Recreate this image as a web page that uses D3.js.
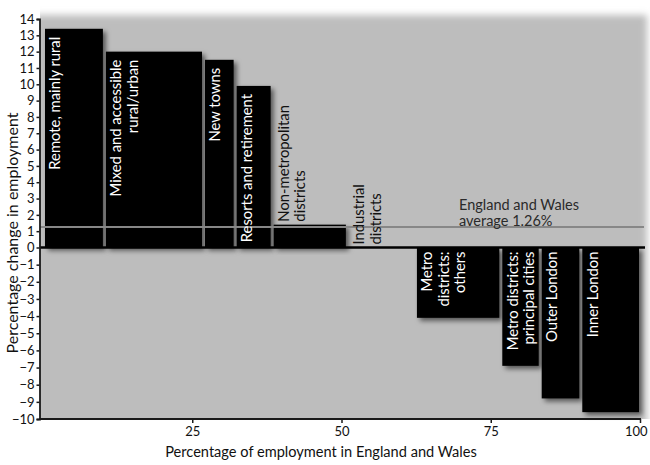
<!DOCTYPE html>
<html>
<head>
<meta charset="utf-8">
<script src="https://cdn.jsdelivr.net/npm/d3@7"></script>
<style>
  html, body { margin: 0; padding: 0; background: #fff; }
  svg { display: block; font-family: Lato, "Open Sans", sans-serif; }
</style>
</head>
<body>
<svg id="chart" width="650" height="465"></svg>
<script>
// ---- data ----
const categories = [
  "Remote, mainly rural", "Mixed and accessible rural/urban", "New towns",
  "Resorts and retirement", "Non-metropolitan districts", "Industrial districts",
  "Metro districts: others", "Metro districts: principal cities", "Outer London", "Inner London"
];
const labelLines = [
  ["Remote, mainly rural"],
  ["Mixed and accessible", "rural/urban"],
  ["New towns"],
  ["Resorts and retirement"],
  ["Non-metropolitan", "districts"],
  ["Industrial", "districts"],
  ["Metro", "districts:", "others"],
  ["Metro districts:", "principal cities"],
  ["Outer London"],
  ["Inner London"]
];
// share of employment in England and Wales (%) – bar widths
const employmentShare = [10.2, 16.6, 5.3, 6.2, 12.6, 11.4, 14.3, 6.6, 6.8, 10.0];
// percentage change in employment – bar heights
const employmentChange = [13.4, 12.0, 11.5, 9.9, 1.4, 0.0, -4.1, -6.9, -8.8, -9.6];
const averageChange = 1.26;
const averageLabel = ["England and Wales", "average 1.26%"];
const xTicks = [25, 50, 75, 100];
const yTicks = d3.range(-10, 15, 1);
const xTitle = "Percentage of employment in England and Wales";
const yTitle = "Percentage change in employment";

// ---- layout ----
const svg = d3.select("#chart");
const x = d3.scaleLinear().domain([0, 100]).range([43, 640]);
const y = d3.scaleLinear().domain([-10, 0, 14]).range([419, 247.5, 19]);

const defs = svg.append("defs");
const blur = defs.append("filter").attr("id", "bgblur")
  .attr("x", "-10%").attr("y", "-10%").attr("width", "120%").attr("height", "120%");
blur.append("feGaussianBlur").attr("stdDeviation", 3.5);
const shadow = defs.append("filter").attr("id", "shadow")
  .attr("x", "-20%").attr("y", "-20%").attr("width", "150%").attr("height", "150%");
shadow.append("feDropShadow").attr("dx", 3).attr("dy", 3)
  .attr("stdDeviation", 2.5).attr("flood-color", "#000").attr("flood-opacity", 0.55);
defs.append("clipPath").attr("id", "plotclip")
  .append("rect").attr("x", 40).attr("y", 0).attr("width", 610).attr("height", 419);

// background panel
svg.append("g").attr("clip-path", "url(#plotclip)")
  .append("rect")
  .attr("x", 34).attr("y", 15).attr("width", 613).attr("height", 420)
  .attr("fill", "#bdbdbd").attr("filter", "url(#bgblur)");

// bars
const starts = [];
employmentShare.reduce((acc, w) => { starts.push(acc); return acc + w; }, 0);
const data = categories.map((c, i) => ({
  name: c, lines: labelLines[i], start: starts[i], end: starts[i] + employmentShare[i],
  value: employmentChange[i]
}));

svg.append("g").selectAll("rect").data(data).join("rect")
  .attr("x", d => x(d.start) + 2)
  .attr("width", d => x(d.end) - x(d.start) - 3)
  .attr("y", d => Math.min(y(d.value), y(0)))
  .attr("height", d => Math.abs(y(d.value) - y(0)))
  .attr("fill", "#000")
  .attr("filter", "url(#shadow)");

// zero line
svg.append("line")
  .attr("x1", 40).attr("x2", 645)
  .attr("y1", y(0)).attr("y2", y(0))
  .attr("stroke", "#000").attr("stroke-width", 2.5);

// average line
svg.append("line")
  .attr("x1", 40).attr("x2", 644)
  .attr("y1", y(averageChange)).attr("y2", y(averageChange))
  .attr("stroke", "#878787").attr("stroke-width", 2);

// bar labels
const lineGap = 16.5;
const labels = svg.append("g").attr("font-size", 14.8);
data.forEach(d => {
  const h = Math.abs(y(d.value) - y(0));
  const inside = h > 40;
  const cx0 = x(d.start) + 12;
  let ay, anchor, fill;
  if (inside && d.value > 0) { ay = y(d.value) + 8; anchor = "end"; fill = "#fff"; }
  else if (inside) { ay = y(0) + 4; anchor = "end"; fill = "#fff"; }
  else { ay = Math.min(y(d.value), y(0)) - 3; anchor = "start"; fill = "#111"; }
  d.lines.forEach((t, j) => {
    const cx = cx0 + j * lineGap;
    labels.append("text")
      .attr("transform", `translate(${cx},${ay}) rotate(-90)`)
      .attr("dy", "0.36em")
      .attr("text-anchor", anchor)
      .attr("fill", fill)
      .text(t);
  });
});

// average label
const avg = svg.append("g").attr("font-size", 14.5).attr("fill", "#2a2a2a");
averageLabel.forEach((t, j) => {
  avg.append("text").attr("x", 459).attr("y", y(averageChange) - 17 + j * 16).text(t);
});

// axes
const yAxis = svg.append("g").attr("transform", "translate(39.5,0)")
  .call(d3.axisLeft(y).tickValues(yTicks).tickFormat(d3.format("d")).tickSize(3).tickPadding(2));
const xAxis = svg.append("g").attr("transform", `translate(0,${y(-10)})`)
  .call(d3.axisBottom(x).tickValues(xTicks).tickSize(4).tickPadding(4));
xAxis.select(".domain").attr("d", `M39.5,0H641`);
[yAxis, xAxis].forEach(a => {
  a.select(".domain").attr("stroke", "#1a1a1a").attr("stroke-width", 1.8);
  a.selectAll(".tick line").attr("stroke", "#1a1a1a").attr("stroke-width", 1.5);
  a.selectAll("text").attr("font-size", 13).attr("fill", "#111")
    .attr("font-family", "Lato, 'Open Sans', sans-serif");
});
// keep the last x tick label inside the picture
xAxis.selectAll(".tick text").filter(d => d === 100)
  .attr("text-anchor", "end").attr("dx", 7);

// titles
svg.append("text")
  .attr("x", 321).attr("y", 457)
  .attr("text-anchor", "middle").attr("font-size", 14.6).attr("fill", "#111")
  .text(xTitle);
svg.append("text")
  .attr("transform", `translate(18,233) rotate(-90)`)
  .attr("text-anchor", "middle").attr("font-size", 16).attr("fill", "#111")
  .text(yTitle);
</script>
</body>
</html>
